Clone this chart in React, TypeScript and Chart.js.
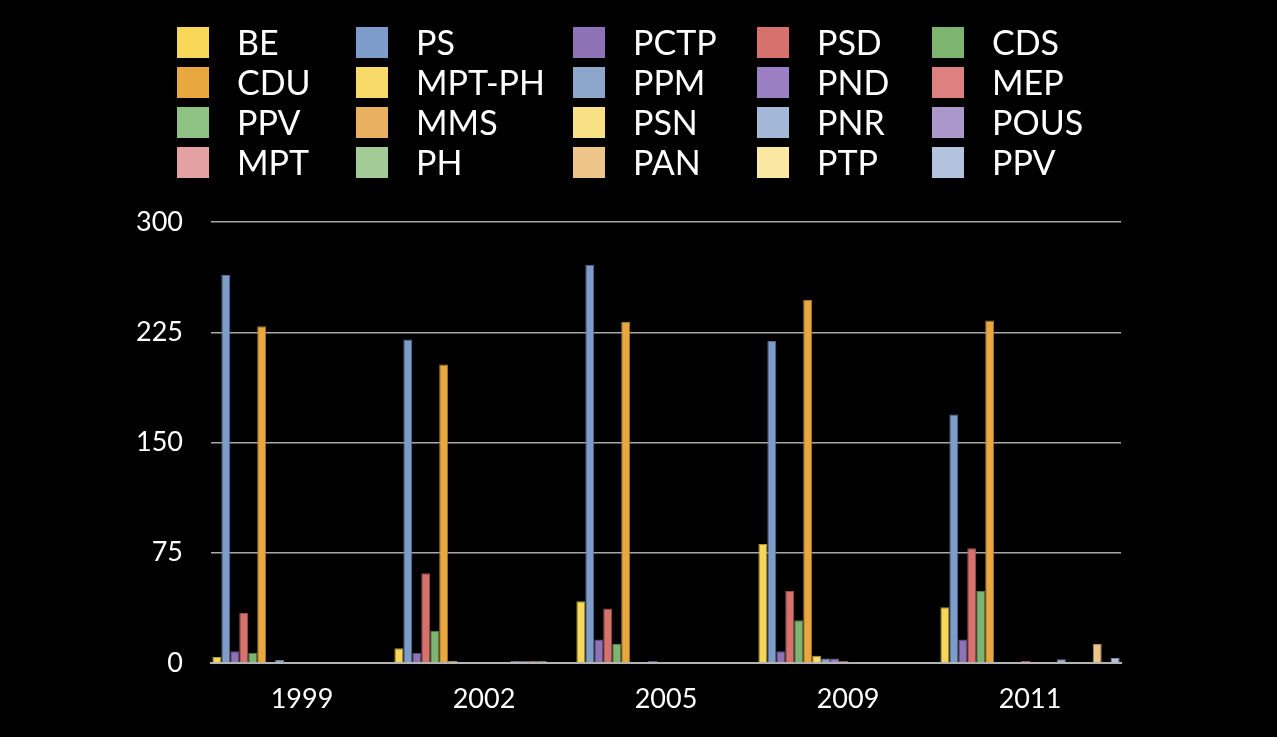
import React, { useEffect, useRef } from 'react';
import { Chart, registerables } from 'chart.js';

Chart.register(...registerables);

const categories = ['1999', '2002', '2005', '2009', '2011'];
const yTicks = [0, 75, 150, 225, 300];

const BE = [4, 10, 42, 81, 38];
const PS = [264, 220, 271, 219, 169];
const PCTP = [8, 7, 16, 8, 16];
const PSD = [34, 61, 37, 49, 78];
const CDS = [7, 22, 13, 29, 49];
const CDU = [229, 203, 232, 247, 233];
const MPT_PH = [0.5, 1.4, 0, 5, 0];
const PPM = [2, 0, 0, 3, 0];
const PND = [0, 0, 1.3, 3, 0];
const MEP = [0, 0, 0, 1.4, 1.4];
const PPV = [0, 0, 0, 0.4, 0];
const MMS = [0, 0, 0, 0, 0];
const PSN = [0.5, 0, 0, 0, 0];
const PNR = [0, 1.3, 0, 0, 2.5];
const POUS = [0, 1.3, 0, 0, 0];
const MPT = [0, 1.3, 0, 0, 0.5];
const PH = [0, 1.3, 0, 0, 0];
const PAN = [0, 0, 0, 0, 13];
const PTP = [0, 0, 0, 0, 0];
const PPV2 = [0, 0, 0, 0, 3.4];

const seriesNames = ['BE', 'PS', 'PCTP', 'PSD', 'CDS', 'CDU', 'MPT-PH', 'PPM', 'PND', 'MEP', 'PPV', 'MMS', 'PSN', 'PNR', 'POUS', 'MPT', 'PH', 'PAN', 'PTP', 'PPV'];
const seriesValues = [BE, PS, PCTP, PSD, CDS, CDU, MPT_PH, PPM, PND, MEP, PPV, MMS, PSN, PNR, POUS, MPT, PH, PAN, PTP, PPV2];
const seriesColors = ['#F7D658', '#7E9CC9', '#8E72B6', '#D7716E', '#7DB46F', '#E8A83F', '#F8DA68', '#8DA6CB', '#9A80C2', '#DC8180', '#8EC184', '#E9B15F', '#F8E184', '#A3B7D6', '#AC97CB', '#E3A1A1', '#A3CB96', '#EEC588', '#FAE7A2', '#B3C3DE'];

const LEG_COL_X = [177, 356, 573, 757, 932];
const LEG_ROW_Y = [27, 67, 107, 147];
const FONT = 'Lato, "Open Sans", sans-serif';

function darken(hex: string, f: number) {
  const n = parseInt(hex.slice(1), 16);
  const r = Math.round(((n >> 16) & 255) * f);
  const g = Math.round(((n >> 8) & 255) * f);
  const b = Math.round((n & 255) * f);
  return `rgb(${r},${g},${b})`;
}

const legendPlugin = {
  id: 'gridLegend',
  afterDraw(chart: any) {
    const ctx = chart.ctx;
    ctx.save();
    ctx.font = `34px ${FONT}`;
    ctx.textBaseline = 'middle';
    ctx.textAlign = 'left';
    chart.data.datasets.forEach((ds: any, i: number) => {
      const r = Math.floor(i / 5);
      const c = i % 5;
      const x = LEG_COL_X[c];
      const y = LEG_ROW_Y[r];
      ctx.fillStyle = ds.backgroundColor;
      ctx.fillRect(x, y, 32, 31);
      ctx.fillStyle = '#ffffff';
      ctx.fillText(ds.label, x + 60, y + 17);
    });
    ctx.restore();
  },
};

export default function App() {
  const ref = useRef<HTMLCanvasElement>(null);
  useEffect(() => {
    if (!ref.current) return;
    const chart = new Chart(ref.current, {
      type: 'bar',
      data: {
        labels: categories,
        datasets: seriesNames.map((name, i) => ({
          label: name,
          data: seriesValues[i],
          backgroundColor: seriesColors[i],
          borderColor: darken(seriesColors[i], 0.7),
          borderWidth: 1,
          categoryPercentage: 0.985,
          barPercentage: 1,
        })),
      },
      options: {
        animation: false,
        responsive: true,
        maintainAspectRatio: false,
        layout: { padding: { top: 222, right: 156, left: 0, bottom: 0 } },
        plugins: {
          legend: { display: false },
          tooltip: { enabled: false },
        },
        scales: {
          x: {
            grid: { display: false, drawTicks: false },
            border: { display: true, color: '#b4b4b4', width: 2 },
            ticks: { color: '#ffffff', font: { family: FONT, size: 27 }, padding: 20 },
            afterFit: (s: any) => { s.height = 74; },
          },
          y: {
            min: 0,
            max: 300,
            afterBuildTicks: (s: any) => { s.ticks = yTicks.map((v) => ({ value: v })); },
            grid: { color: '#a8a8a8', lineWidth: 1.5, drawTicks: false },
            border: { display: false },
            ticks: { color: '#ffffff', font: { family: FONT, size: 27 }, padding: 28 },
            afterFit: (s: any) => { s.width = 211; },
          },
        },
      },
      plugins: [legendPlugin],
    });
    return () => chart.destroy();
  }, []);
  return (
    <div style={{ position: 'fixed', left: 0, top: 0, width: 1277, height: 737, background: '#000' }}>
      <canvas ref={ref} />
    </div>
  );
}
